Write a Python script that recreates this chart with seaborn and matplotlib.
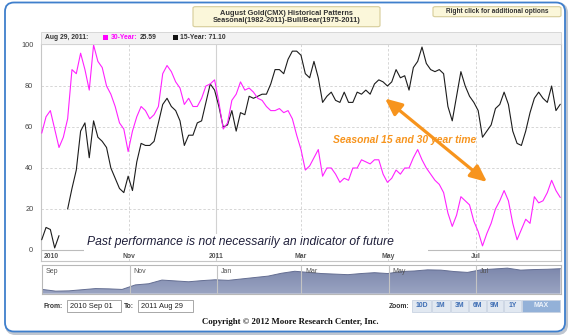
import numpy as np
import pandas as pd
import matplotlib
matplotlib.use("Agg")
import matplotlib.pyplot as plt
import matplotlib.dates as mdates
import seaborn as sns
from matplotlib.patches import Rectangle, FancyBboxPatch, FancyArrowPatch
from matplotlib.transforms import IdentityTransform
from matplotlib.colors import LinearSegmentedColormap

# ---------------------------------------------------------------- data
start_date = "2010-09-01"
end_date = "2011-08-29"

seasonal_30yr = [
    57, 65, 68, 59, 50, 55, 64, 88, 86, 96, 88, 78, 100, 92, 89, 80, 76, 70, 62, 59,
    48, 58, 65, 70, 68, 64, 66, 70, 86, 90, 87, 82, 79, 71, 74, 70, 70, 74, 80, 81,
    83, 72, 59, 62, 73, 76, 82, 78, 79, 77, 74, 73, 70, 68, 68, 69, 67, 68, 64, 56,
    49, 39, 41, 45, 49, 36, 40, 40, 37, 33, 35, 34, 40, 40, 44, 43, 42, 44, 44, 37,
    33, 35, 39, 37, 40, 40, 45, 49, 44, 40, 37, 34, 32, 28, 18, 11.5, 17, 26, 24, 22,
    14, 9, 2, 8, 13, 20, 24, 29, 24, 13, 5, 10, 15, 13, 26, 23, 24, 28, 34, 29, 25.59,
]
seasonal_15yr = [
    5, 11, 10, 1, 7, np.nan, 20, 30, 39, 58, 62, 45, 63, 55, 53, 50, 40, 35, 30, 28,
    36, 29, 43, 52, 51, 51, 53, 62, 71, 74, 70, 68, 63, 51, 56, 56, 62, 63, 72, 81,
    78, 70, 60, 61, 68, 58, 67, 66, 75, 74, 75, 76, 76, 81, 88, 88, 86, 93, 97, 97,
    95, 86, 84, 92, 84, 72, 75, 77, 73, 72, 77, 72, 72, 77, 76, 78, 76, 81, 83, 82,
    80, 82, 88, 84, 85, 78, 89, 92, 99, 91, 88, 87, 88, 86, 70, 63, 75, 87, 80, 75,
    72, 68, 55, 58, 61, 69, 71, 77, 71, 58, 52, 51, 58, 67, 74, 77, 74, 72, 80, 68, 71.10,
]
# navigator overview (relative height of the price area, 0-100)
navigator = [
    15, 9, 10, 14, 18, 17, 15, 31, 35, 48, 45, 42, 46, 49, 47, 52, 57, 62, 72, 79,
    75, 71, 69, 67, 71, 74, 71, 78, 80, 84, 83, 78, 75, 84, 87, 90, 83, 85, 86, 88,
]
y_ticks = [0, 20, 40, 60, 80, 100]
x_labels = ["2010", "Nov", "2011", "Mar", "May", "Jul"]
x_label_dates = ["2010-09-01", "2010-11-01", "2011-01-01", "2011-03-01", "2011-05-01", "2011-07-01"]
nav_labels = ["Sep", "Nov", "Jan", "Mar", "May", "Jul"]
zoom_buttons = ["10D", "1M", "3M", "6M", "9M", "1Y", "MAX"]

dates = pd.date_range(start_date, end_date, periods=len(seasonal_30yr))
nav_dates = pd.date_range(start_date, end_date, periods=len(navigator))

# ---------------------------------------------------------------- style
sns.set_style("white")
plt.rcParams["font.family"] = ["Liberation Sans", "DejaVu Sans"]

W, H = 570, 335
fig = plt.figure(figsize=(W / 100, H / 100), dpi=100)


def fx(x):
    return x / W


def fy(y):
    return 1 - y / H


def frect(x0, y0, x1, y1, **kw):
    r = Rectangle((fx(x0), fy(y1)), (x1 - x0) / W, (y1 - y0) / H,
                  transform=fig.transFigure, **kw)
    fig.add_artist(r)
    return r


def ftext(x, y, s, **kw):
    kw.setdefault("va", "center")
    return fig.text(fx(x), fy(y), s, **kw)


# outer rounded frame with a soft shadow
shadow = FancyBboxPatch((6.5, H - 333.5), 560, 329.5,
                        boxstyle="round,pad=0,rounding_size=9",
                        transform=IdentityTransform(), fc="none",
                        ec="#bfc6d0", lw=2.2, zorder=-3)
frame = FancyBboxPatch((5, H - 331.5), 560, 329,
                       boxstyle="round,pad=0,rounding_size=9",
                       transform=IdentityTransform(), fc="white",
                       ec="#3f7fcc", lw=1.3, zorder=-2)
fig.add_artist(shadow)
fig.add_artist(frame)

# title box
title_box = FancyBboxPatch((fx(193), fy(26.7)), (380 - 193) / W, 20 / H,
                           boxstyle="round,pad=0,rounding_size=0.004",
                           transform=fig.transFigure, fc="#fbf7da",
                           ec="#d6cc98", lw=0.8, zorder=2)
fig.add_artist(title_box)
ftext(286.5, 13.3, "August Gold(CMX) Historical Patterns", ha="center",
      fontsize=5.3, fontweight="bold", color="#333333", zorder=3)
ftext(286.5, 21.0, "Seasonal(1982-2011)-Bull/Bear(1975-2011)", ha="center",
      fontsize=5.3, fontweight="bold", color="#333333", zorder=3)

# options box
opt_box = FancyBboxPatch((fx(433), fy(16.7)), (561 - 433) / W, 10 / H,
                         boxstyle="round,pad=0,rounding_size=0.004",
                         transform=fig.transFigure, fc="#fbf7da",
                         ec="#d6cc98", lw=0.8, zorder=2)
fig.add_artist(opt_box)
ftext(497, 11.7, "Right click for additional options", ha="center",
      fontsize=4.7, fontweight="bold", color="#333333", zorder=3)

# ---------------------------------------------------------------- main chart
ax = fig.add_axes([fx(41), fy(261), 520 / W, (261 - 43.5) / H])
ax.set_facecolor("white")

x0 = pd.Timestamp(start_date) - pd.Timedelta(hours=12)
x1 = pd.Timestamp(end_date) + pd.Timedelta(hours=12)

# grid
for v in [20, 40, 60, 80]:
    ax.axhline(v, color="#d6d6d6", lw=0.7, ls=(0, (2.5, 2)), zorder=1)
for m in ["2010-11-01", "2011-03-01", "2011-05-01", "2011-07-01"]:
    ax.axvline(pd.Timestamp(m), color="#d6d6d6", lw=0.7, ls=(0, (2.5, 2)), zorder=1)
ax.axvline(pd.Timestamp("2011-01-01"), color="#d2d2d2", lw=0.8, zorder=1)
ax.axhline(0, color="#bcbcbc", lw=0.8, zorder=1)


def draw_series(values, color):
    vals = np.asarray(values, dtype=float)
    ok = ~np.isnan(vals)
    # split into contiguous runs so missing days leave a gap
    idx = np.flatnonzero(ok)
    runs = np.split(idx, np.flatnonzero(np.diff(idx) > 1) + 1)
    for run in runs:
        sns.lineplot(x=dates[run], y=vals[run], ax=ax, color=color,
                     lw=0.8, estimator=None, sort=False, zorder=4)


draw_series(seasonal_15yr, "#1c1c1c")
draw_series(seasonal_30yr, "#ff22ff")

ax.set_xlim(x0, x1)
ax.set_ylim(-5.37, 100.73)
ax.set_xlabel("")
ax.set_ylabel("")
ax.set_xticks([])
ax.set_yticks(y_ticks)
ax.set_yticklabels([str(t) for t in y_ticks])
ax.tick_params(axis="y", length=0, pad=5.5, labelsize=5.3, labelcolor="#444444")
for s in ax.spines.values():
    s.set_color("#c6c6c6")
    s.set_linewidth(0.8)

for lab, d in zip(x_labels, x_label_dates):
    t = pd.Timestamp(d)
    if lab == "2010":
        ax.text(t + pd.Timedelta(days=1.2), -3.4, lab, ha="left", va="center",
                fontsize=4.9, fontweight="bold", color="#555555")
    else:
        ax.text(t, -3.4, lab, ha="center", va="center",
                fontsize=4.9, fontweight="bold", color="#555555")

# legend bar
frect(41, 31.7, 561, 43.5, fc="#f2f2f2", ec="#d2d2d2", lw=0.6, zorder=2)
renderer = fig.canvas.get_renderer()


def place(x, s, color, size=4.9):
    t = ftext(x, 37.6, s, ha="left", fontsize=size, fontweight="bold",
              color=color, zorder=3)
    bb = t.get_window_extent(renderer)
    return bb.x1


ftext(45, 37.6, "Aug 29, 2011:", ha="left", fontsize=4.9, fontweight="bold",
      color="#333333", zorder=3)
frect(103, 35.3, 107.5, 39.8, fc="#ff00ff", ec="none", zorder=3)
xe = place(110.5, "30-Year:", "#ff00ff")
place(xe + 2.5, "25.59", "#333333")
frect(173, 35.3, 177.5, 39.8, fc="#111111", ec="none", zorder=3)
place(180.5, "15-Year: 71.10", "#333333")

# disclaimer (white backing over the lower grid)
frect(84, 234, 428, 252.5, fc="white", ec="none", zorder=5)
ftext(87, 241.7, "Past performance is not necessarily an indicator of future",
      ha="left", fontsize=8.7, fontstyle="italic", color="#1f1f3a", zorder=6)

# seasonal annotation
ftext(333, 140, "Seasonal 15 and 30 year time", ha="left", fontsize=7.4,
      fontweight="bold", fontstyle="italic", color="#f7941d", zorder=6)
arrow = FancyArrowPatch(posA=(fx(487), fy(182)), posB=(fx(385), fy(98.5)),
                        transform=fig.transFigure,
                        arrowstyle="<|-|>,head_length=1.0,head_width=0.45",
                        mutation_scale=10, color="#f7941d", lw=2.3,
                        shrinkA=0, shrinkB=0, zorder=7)
fig.add_artist(arrow)

# ---------------------------------------------------------------- navigator
nav = fig.add_axes([fx(41.7), fy(293.7), 519.5 / W, 28.4 / H])
nx = mdates.date2num(nav_dates)
nav_vals = np.asarray(navigator, dtype=float)
lo, hi = mdates.date2num(x0), mdates.date2num(x1)

poly = nav.fill_between(nx, nav_vals, 0, color="none", lw=0)
grad = np.linspace(0, 1, 64).reshape(-1, 1)
cmap = LinearSegmentedColormap.from_list("nav", ["#9aa4c2", "#7a85aa"])
img = nav.imshow(grad, extent=[lo, hi, 0, 100], origin="lower",
                 aspect="auto", cmap=cmap, zorder=1)
img.set_clip_path(poly.get_paths()[0], transform=nav.transData)
sns.lineplot(x=nx, y=nav_vals, ax=nav, color="#646e92", lw=0.7,
             estimator=None, sort=False, zorder=2)

for d in x_label_dates[1:]:
    nav.axvline(mdates.date2num(pd.Timestamp(d)), color="#c4c4c4", lw=0.8, zorder=3)
for lab, d in zip(nav_labels, x_label_dates):
    nav.text(mdates.date2num(pd.Timestamp(d)) + 2.5, 79, lab, ha="left",
             va="center", fontsize=5.0, color="#555555", zorder=4)

nav.set_xlim(lo, hi)
nav.set_ylim(0, 100)
nav.set_xticks([])
nav.set_yticks([])
nav.set_xlabel("")
nav.set_ylabel("")
for s in nav.spines.values():
    s.set_color("#b8b8b8")
    s.set_linewidth(0.8)

# ---------------------------------------------------------------- range controls
ftext(43, 306, "From:", ha="left", fontsize=4.9, fontweight="bold", color="#333333")
frect(67, 300, 121, 312, fc="white", ec="#a8a8a8", lw=0.7)
ftext(70, 306, "2010 Sep 01", ha="left", fontsize=5.4, color="#222222")
ftext(124, 306, "To:", ha="left", fontsize=4.9, fontweight="bold", color="#333333")
frect(138, 300, 193, 312, fc="white", ec="#a8a8a8", lw=0.7)
ftext(141, 306, "2011 Aug 29", ha="left", fontsize=5.4, color="#222222")

ftext(409, 306, "Zoom:", ha="right", fontsize=4.9, fontweight="bold", color="#333333")
btn_edges = [(412, 431), (432, 449.5), (450.5, 468), (469, 485.5),
             (486.5, 503), (504, 521), (522, 560)]
for lab, (a, b) in zip(zoom_buttons, btn_edges):
    active = lab == "MAX"
    frect(a, 300, b, 311.5, fc="#93b1d8" if active else "#e1e8f1",
          ec="#c9d3e2", lw=0.6)
    ftext((a + b) / 2, 305.9, lab, ha="center", fontsize=4.9, fontweight="bold",
          color="#eef3fa" if active else "#3d6db4")

ftext(290, 321.7, "Copyright \u00a9 2012 Moore Research Center, Inc.", ha="center",
      fontsize=6.3, fontweight="bold", family=["Liberation Serif", "DejaVu Serif"],
      color="#111111")

fig.savefig("out.png", dpi=100)
